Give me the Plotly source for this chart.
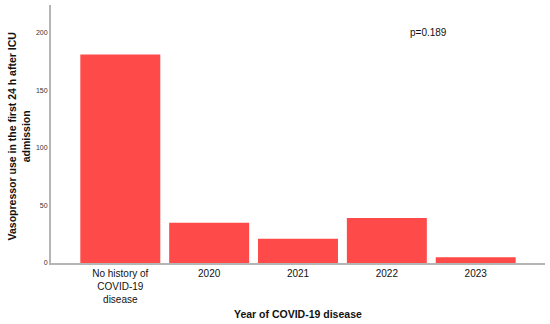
import plotly.graph_objects as go

categories = ["No history of<br>COVID-19<br>disease", "2020", "2021", "2022", "2023"]
values = [181, 35, 21, 39, 5]
y_ticks = [0, 50, 100, 150, 200]

fig = go.Figure(go.Bar(x=categories, y=values, marker=dict(color="#FF4A4A", line=dict(width=0)), width=0.9))

fig.update_layout(
    width=550, height=324,
    margin=dict(l=51, r=5, t=5, b=61, autoexpand=False),
    paper_bgcolor="white", plot_bgcolor="white",
    font=dict(family="Liberation Sans, Arial, sans-serif", color="#111"),
    showlegend=False,
    bargap=0.1,
)
fig.update_xaxes(
    range=[-0.78, 4.78], showline=True, linecolor="#b5b5b5", linewidth=2,
    ticks="", tickfont=dict(size=10, color="#111"), automargin=False,
    showgrid=False, zeroline=False,
)
fig.update_yaxes(
    range=[0, 224], showline=True, linecolor="#b5b5b5", linewidth=2,
    tickvals=y_ticks, ticks="", tickfont=dict(size=7, color="#333"), automargin=False,
    showgrid=False, zeroline=False,
)
fig.add_annotation(x=0.5, y=-0.197, xref="paper", yref="paper",
                   text="<b>Year of COVID-19 disease</b>", showarrow=False,
                   font=dict(size=10.5, color="#111"), xanchor="center", yanchor="middle")
fig.add_annotation(x=-0.065, y=0.49, xref="paper", yref="paper", xanchor="center", yanchor="middle",
                   text="<b>Vasopressor use in the first 24 h after ICU<br>admission</b>",
                   textangle=-90, showarrow=False, font=dict(size=10.5, color="#111"))
fig.add_annotation(x=3.47, y=200, xref="x", yref="y", text="p=0.189", showarrow=False,
                   font=dict(size=10, color="#111"), xanchor="center", yanchor="middle")

fig.write_html("out.html", post_script="document.body.style.margin='0';",
               config={"displayModeBar": False})
